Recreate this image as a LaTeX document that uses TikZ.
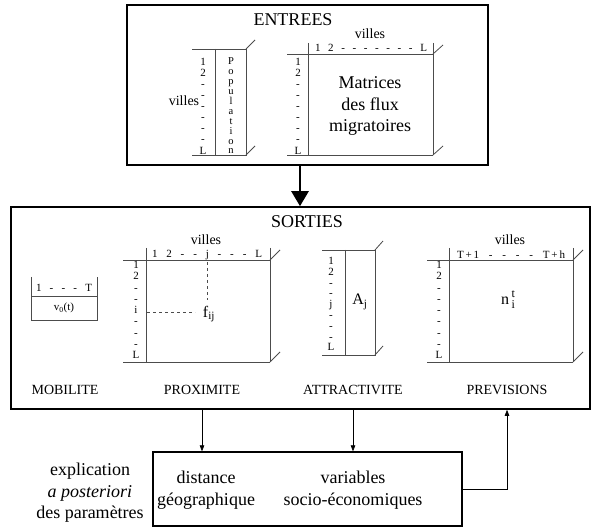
\documentclass[tikz,border=0pt]{standalone}
\usepackage{fontspec}
\setmainfont{Liberation Serif}
\usetikzlibrary{arrows.meta,positioning}

\begin{document}
\begin{tikzpicture}[x=1pt,y=-1pt,
  frame/.style={draw,line width=1.6pt,inner sep=0pt},
  matline/.style={draw=black!70,line width=0.8pt},
  lab/.style={inner sep=0pt,font=\fontsize{11}{11}\selectfont},
  col/.style={align=center,inner sep=0pt,font=\fontsize{11}{11.1}\selectfont},
  legend/.style={font=\fontsize{14}{16}\selectfont},
  boxtitle/.style={font=\fontsize{18}{20}\selectfont},
  big/.style={align=center,font=\fontsize{18}{21.5}\selectfont},
  lien/.style={-{Triangle[length=6pt,width=4.5pt]},line width=0.7pt}]
\useasboundingbox (0,0) rectangle (594,529);

% ENTREES
\node[frame,minimum width=361pt,minimum height=160pt] (entrees) at (307.5,85) {};
\node[boxtitle] (tin) at (293,20) {ENTREES};
% population
\draw[matline] (192,49) -- (246,49) -- (246,155) -- (192,155);
\draw[matline] (215,49) -- (215,155);
\draw[matline] (246,49) -- (255,40);
\draw[matline] (246,155) -- (255,146);
\node[legend] (vpop) at (184,101) {villes};
\node[col] (rpop) at (203,106) {1\\2\\-\\-\\-\\-\\-\\-\\L};
\node[col,font=\fontsize{10.5}{9.9}\selectfont] (pop) at (231,106) {P\\o\\p\\u\\l\\a\\t\\i\\o\\n};
% flux
\draw[matline] (287,54) -- (433,54);
\draw[matline] (287,155) -- (433,155);
\draw[matline] (308,43) -- (308,155);
\draw[matline] (433,43) -- (433,155);
\draw[matline] (433,54) -- (443,45);
\draw[matline] (433,155) -- (443,146);
\node[legend] (vflux) at (370,34) {villes};
\node[lab] (hflux) at (371,48) {\makebox[112pt]{1\hfill 2\hfill -\hfill -\hfill -\hfill -\hfill -\hfill -\hfill -\hfill L}};
\node[col] (rflux) at (298,106) {1\\2\\-\\-\\-\\-\\-\\-\\L};
\node[big] (flux) at (370,106) {Matrices\\des flux\\migratoires};

% SORTIES
\node[frame,minimum width=579pt,minimum height=202pt] (sorties) at (300.5,308) {};
\node[boxtitle] (tout) at (307,222) {SORTIES};
\coordinate (flow) at (300,0);
\draw[line width=2.6pt,-{Triangle[length=15pt,width=17pt]}] (entrees.south -| flow) -- (sorties.north -| flow);

% mobilite
\draw[matline] (31,277) -- (31,320) -- (97,320) -- (97,277);
\draw[matline] (31,296) -- (97,296);
\node[lab] (hmob) at (64,288) {\makebox[56pt]{1\hfill -\hfill -\hfill -\hfill T}};
\node[lab,font=\fontsize{11}{12}\selectfont] (vmob) at (64,308) {v\textsubscript{0}(t)};
\node[legend] (mob) at (65,390) {MOBILITE};

% proximite
\draw[matline] (123,260) -- (270,260);
\draw[matline] (123,362) -- (270,362);
\draw[matline] (146,248) -- (146,362);
\draw[matline] (270,248) -- (270,362);
\draw[matline] (270,260) -- (280,250);
\draw[matline] (270,362) -- (280,352);
\node[legend] (vprox) at (206,240) {villes};
\node[lab] (hprox) at (207,255) {\makebox[110pt]{1\hfill 2\hfill -\hfill -\hfill j\hfill -\hfill -\hfill -\hfill L}};
\node[col,font=\fontsize{11}{11.25}\selectfont] (rprox) at (136,310) {1\\2\\-\\-\\i\\-\\-\\-\\L};
\draw[matline,dashed] (207,262) -- (207,300);
\draw[matline,dashed] (147,312) -- (195,312);
\node[inner sep=0pt,font=\fontsize{16}{18}\selectfont] (fij) at (209,314) {f\textsubscript{ij}};
\node[legend] (prox) at (202,390) {PROXIMITE};

% attractivite
\draw[matline] (322,250) -- (375,250) -- (375,355) -- (322,355);
\draw[matline] (345,250) -- (345,355);
\draw[matline] (375,250) -- (383,241);
\draw[matline] (375,355) -- (383,346);
\node[col,font=\fontsize{11}{10.8}\selectfont] (rattr) at (331,304) {1\\2\\-\\-\\j\\-\\-\\-\\L};
\node[inner sep=0pt,font=\fontsize{16}{18}\selectfont] (aj) at (360,302) {A\textsubscript{j}};
\node[legend] (attr) at (353,390) {ATTRACTIVITE};

% previsions
\draw[matline] (427,260) -- (573,260);
\draw[matline] (427,362) -- (573,362);
\draw[matline] (449,248) -- (449,362);
\draw[matline] (573,248) -- (573,362);
\draw[matline] (573,260) -- (583,250);
\draw[matline] (573,362) -- (583,352);
\node[legend] (vprev) at (510,240) {villes};
\node[lab] (hprev) at (511,255) {\makebox[108pt]{T\,+\,1\hfill -\hfill -\hfill -\hfill -\hfill T\,+\,h}};
\node[col,font=\fontsize{11}{11.25}\selectfont] (rprev) at (439,310) {1\\2\\-\\-\\-\\-\\-\\-\\L};
\node[inner sep=0pt,font=\fontsize{16}{18}\selectfont] (nit) at (508,300) {n\,\raisebox{-4pt}{\shortstack{\fontsize{12}{10}\selectfont t\\\fontsize{12}{10}\selectfont i}}};
\node[legend] (prev) at (507,390) {PREVISIONS};

% explication
\node[frame,line width=1.3pt,minimum width=309pt,minimum height=74pt] (expl) at (307.5,489) {};
\node[big] (why) at (90,493) {explication\\\textit{a posteriori}\\des paramètres};
\node[big] (dist) at (206,490) {distance\\géographique};
\node[big] (socio) at (353,490) {variables\\socio-économiques};
\draw[lien] (sorties.south -| prox) -- (expl.north -| prox);
\draw[lien] (sorties.south -| attr) -- (expl.north -| attr);
\draw[lien] (expl.east) -| (sorties.south -| prev);
\end{tikzpicture}
\end{document}
